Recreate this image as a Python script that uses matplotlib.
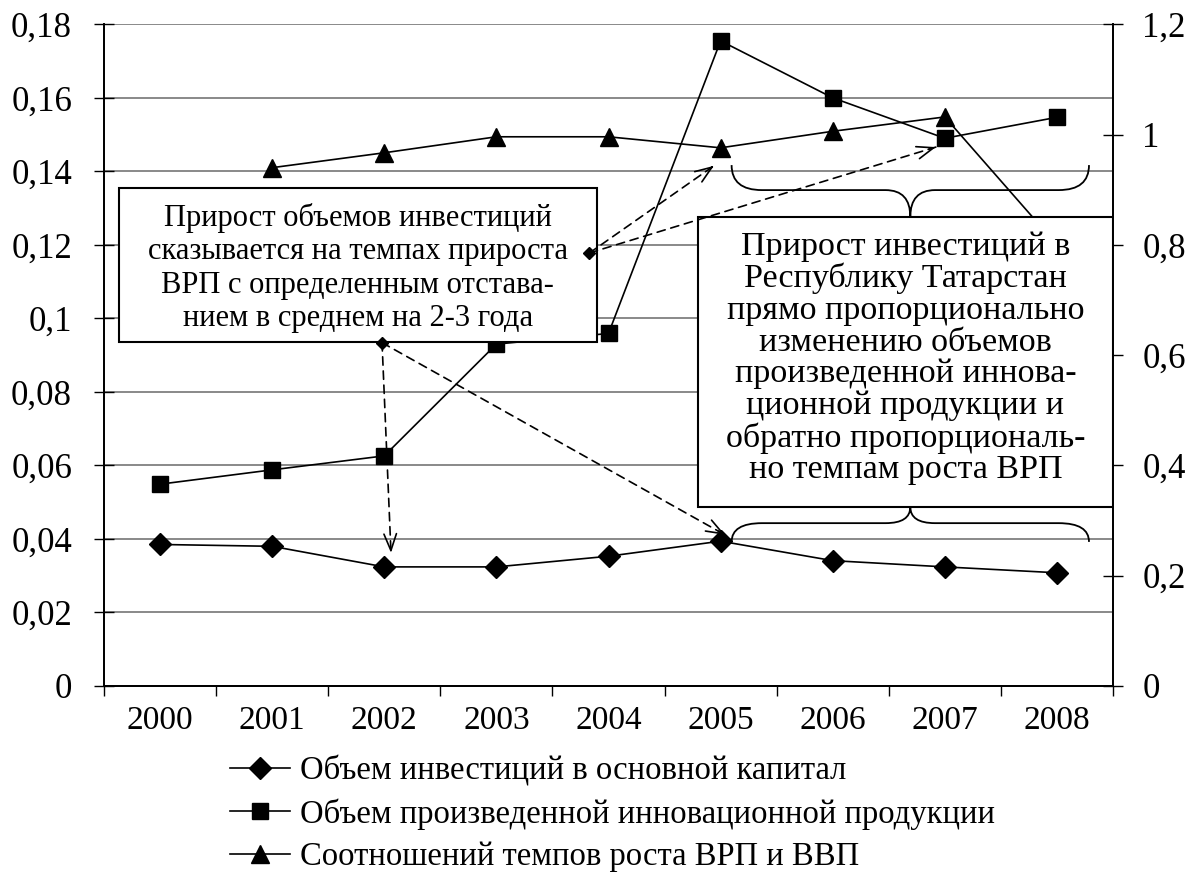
import numpy as np
import matplotlib
matplotlib.use("Agg")
import matplotlib.pyplot as plt
from matplotlib.patches import Rectangle, PathPatch
from matplotlib.path import Path
from matplotlib.ticker import FixedLocator, FuncFormatter

plt.rcParams['font.family'] = ['Liberation Serif', 'DejaVu Serif']

years = ['2000', '2001', '2002', '2003', '2004', '2005', '2006', '2007', '2008']
# left axis
invest = [0.0385, 0.038, 0.0324, 0.0324, 0.0353, 0.0394, 0.0341, 0.0324, 0.0308]
innov = [0.0549, 0.0588, 0.0626, 0.093, 0.0959, 0.1755, 0.160, 0.149, 0.1547]
# right axis
ratio = [np.nan, 0.940, 0.967, 0.996, 0.996, 0.976, 1.006, 1.032, 0.80]

labels = ['Объем инвестиций в основной капитал',
          'Объем произведенной инновационной продукции',
          'Соотношений темпов роста ВРП и ВВП']

note_left = ('Прирост объемов инвестиций\nсказывается на темпах прироста\n'
             'ВРП с определенным отстава-\nнием в среднем на 2-3 года')
note_right = ('Прирост инвестиций в\nРеспублику Татарстан\nпрямо пропорционально\n'
              'изменению объемов\nпроизведенной иннова-\nционной продукции и\n'
              'обратно пропорциональ-\nно темпам роста ВРП')


def fmt(v, _=None):
    s = f"{v:.2f}".rstrip('0').rstrip('.')
    return s.replace('.', ',')


fig = plt.figure(figsize=(11.88, 8.73), dpi=100)
ax = fig.add_axes([104 / 1188, 1 - 686 / 873, (1113 - 104) / 1188, (686 - 24.3) / 873])
ax2 = ax.twinx()

x = np.arange(len(years))
l1, = ax.plot(x, invest, color='black', lw=1.2, marker='D', ms=11, zorder=3)
l2, = ax.plot(x, innov, color='black', lw=1.2, marker='s', ms=12, zorder=3)
l3, = ax2.plot(x, ratio, color='black', lw=1.2, marker='^', ms=13, zorder=2)

ax.set_xlim(-0.5, len(years) - 0.5)
ax.set_ylim(0, 0.18)
ax2.set_ylim(0, 1.2)

ax.set_xticks(x)
ax.set_xticklabels(years, fontsize=24)
ax.xaxis.set_minor_locator(FixedLocator(np.arange(-0.5, len(years), 1)))
ax.tick_params(axis='x', which='major', length=0, pad=14)
ax.tick_params(axis='x', which='minor', length=7, width=1, direction='out')

ax.yaxis.set_major_locator(FixedLocator(np.arange(0, 0.181, 0.02)))
ax.yaxis.set_major_formatter(FuncFormatter(fmt))
ax.tick_params(axis='y', direction='inout', length=15, width=1, labelsize=25, pad=15.5)
ax2.yaxis.set_major_locator(FixedLocator(np.arange(0, 1.21, 0.2)))
ax2.yaxis.set_major_formatter(FuncFormatter(fmt))
ax2.tick_params(axis='y', direction='inout', length=15, width=1, labelsize=25, pad=13.5)

ax.yaxis.grid(True, color='#808080', lw=1.3)
ax.set_axisbelow(True)
for a in (ax, ax2):
    a.spines['top'].set_visible(False)
    for s in ('left', 'right', 'bottom'):
        a.spines[s].set_color('black')
        a.spines[s].set_linewidth(1.3)

T = ax.transData

# text boxes
ax2.add_patch(Rectangle((-0.366, 0.0936), 3.893 + 0.366, 0.1355 - 0.0936, transform=T,
                        facecolor='white', edgecolor='black', lw=1.5, zorder=5))
ax2.add_patch(Rectangle((4.795, 0.0487), 8.5 - 4.795, 0.1276 - 0.0487, transform=T,
                        facecolor='white', edgecolor='black', lw=1.5, zorder=5))
ax2.text((-0.366 + 3.893) / 2, (0.0936 + 0.1355) / 2 - 0.0008, note_left, transform=T,
         ha='center', va='center', fontsize=22, linespacing=1.2, zorder=6)
ax2.text((4.795 + 8.5) / 2, (0.0487 + 0.1276) / 2 + 0.001, note_right, transform=T,
         ha='center', va='center', fontsize=24.5, linespacing=1.05, zorder=6)


def brace(x0, x1, y_end, y_mid, y_tip, r_end=0.27, r_mid=0.22):
    xm = (x0 + x1) / 2
    verts = [(x0, y_end), (x0, y_mid), (x0 + r_end, y_mid),
             (xm - r_mid, y_mid), (xm, y_mid), (xm, y_tip),
             (xm, y_mid), (xm + r_mid, y_mid),
             (x1 - r_end, y_mid), (x1, y_mid), (x1, y_end)]
    codes = [Path.MOVETO, Path.CURVE3, Path.CURVE3, Path.LINETO,
             Path.CURVE3, Path.CURVE3, Path.CURVE3, Path.CURVE3,
             Path.LINETO, Path.CURVE3, Path.CURVE3]
    ax2.add_patch(PathPatch(Path(verts, codes), transform=T, fill=False,
                            edgecolor='black', lw=1.3, zorder=6))


brace(5.098, 8.286, 0.1417, 0.1349, 0.1276)
brace(5.098, 8.286, 0.0392, 0.0443, 0.0487)

# dashed arrows
starts = [(3.83, 0.1178), (3.83, 0.1178), (1.98, 0.0934), (1.98, 0.0934)]
tips = [(4.94, 0.1415), (6.92, 0.1466), (2.06, 0.0362), (5.04, 0.0411)]
for (sx, sy), (tx, ty) in zip(starts, tips):
    ax2.annotate('', xy=(tx, ty), xytext=(sx, sy), xycoords=T, textcoords=T,
                 arrowprops=dict(arrowstyle='-', linestyle=(0, (5, 3.5)), lw=1.2,
                                 color='black', shrinkA=0, shrinkB=0), zorder=7)
    px, py = tx - 0.02 * (tx - sx), ty - 0.02 * (ty - sy)
    ax2.annotate('', xy=(tx, ty), xytext=(px, py), xycoords=T, textcoords=T,
                 arrowprops=dict(arrowstyle='->,head_length=0.8,head_width=0.3',
                                 mutation_scale=15, lw=1.2, color='black',
                                 shrinkA=0, shrinkB=0), zorder=7)
ax2.plot([3.83, 1.98], [0.1178 * 1.2 / 0.18, 0.0934 * 1.2 / 0.18], ls='none',
         marker='D', ms=6.5, color='black', zorder=8)

fig.legend([l1, l2, l3], labels, loc='upper left', bbox_to_anchor=(230 / 1188, 1 - 755 / 873),
           frameon=False, fontsize=23.5, handlelength=1.85, handletextpad=0.3,
           labelspacing=0.37, borderpad=0, borderaxespad=0)

fig.savefig('out.png', dpi=100)
